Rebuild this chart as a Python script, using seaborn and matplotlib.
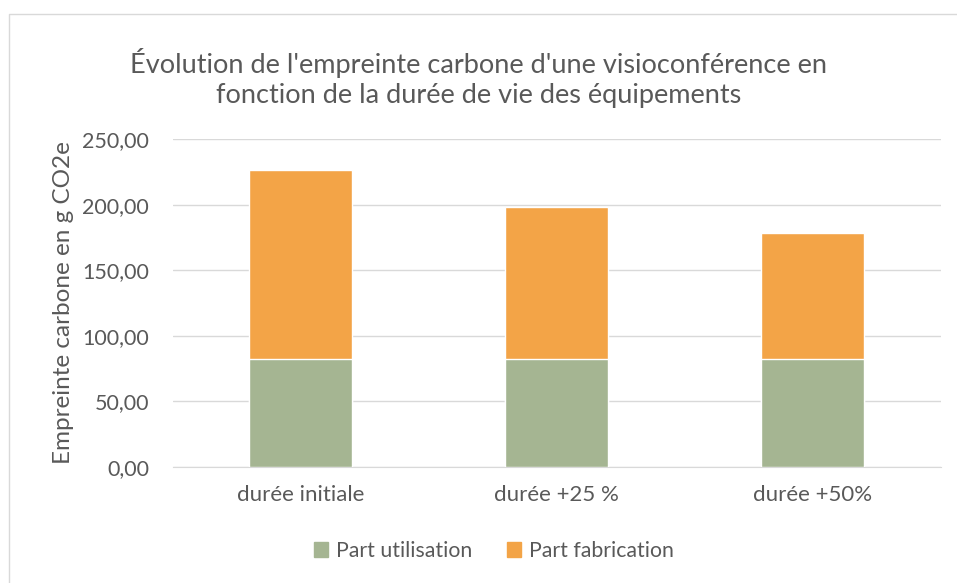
import pandas as pd
import seaborn as sns
import matplotlib.pyplot as plt
from matplotlib.patches import Patch
from matplotlib.lines import Line2D
from matplotlib.ticker import FuncFormatter

categories = ["durée initiale", "durée +25 %", "durée +50%"]
utilisation = [82.6, 82.6, 82.6]
fabrication = [143.8, 115.2, 95.9]

df = pd.DataFrame({"cat": categories, "util": utilisation, "fab": fabrication})
df["total"] = df["util"] + df["fab"]

green = "#a5b592"
orange = "#f3a447"
grey = "#595959"

sns.set_style("white")
plt.rcParams["font.family"] = ["Lato", "DejaVu Sans"]

fig = plt.figure(figsize=(9.57, 5.83), dpi=100)
ax = fig.add_axes([172.5 / 957, 1 - 467 / 583, 768 / 957, 328 / 583])

sns.barplot(data=df, x="cat", y="total", color=orange, width=0.4,
            saturation=1, ax=ax, zorder=2)
sns.barplot(data=df, x="cat", y="util", color=green, width=0.4,
            saturation=1, ax=ax, zorder=3)

ax.set_ylim(0, 250)
ax.set_xlim(-0.5, 2.5)
ax.set_yticks([0, 50, 100, 150, 200, 250])
ax.yaxis.set_major_formatter(FuncFormatter(lambda v, p: f"{v:.2f}".replace(".", ",")))
ax.grid(axis="y", color="#d9d9d9", linewidth=1, zorder=0)
ax.set_axisbelow(True)
for s in ["top", "right", "left"]:
    ax.spines[s].set_visible(False)
ax.spines["bottom"].set_color("#d9d9d9")
ax.tick_params(axis="y", length=0, labelsize=15.5, labelcolor=grey, pad=17)
ax.tick_params(axis="x", length=0, labelsize=16, labelcolor=grey, pad=13)
ax.set_xlabel("")
ax.set_ylabel("Empreinte carbone en g CO2e", fontsize=17.5, color=grey, labelpad=6)

fig.text(0.5, 1 - 78 / 583, "Évolution de l'empreinte carbone d'une visioconférence en\n"
         "fonction de la durée de vie des équipements",
         ha="center", va="center", fontsize=19.5, color=grey, linespacing=1.25)

handles = [Patch(color=green, label="Part utilisation"),
           Patch(color=orange, label="Part fabrication")]
fig.legend(handles=handles, loc="center", bbox_to_anchor=(494 / 957, 1 - 551 / 583),
           ncol=2, frameon=False, fontsize=15.3, labelcolor=grey,
           handlelength=0.65, handleheight=0.65, columnspacing=1.6, handletextpad=0.4)

# chart area border (top and left only visible)
fig.add_artist(Line2D([9 / 957, 9 / 957, 1], [0, 1 - 14 / 583, 1 - 14 / 583],
                      transform=fig.transFigure, color="#d9d9d9", linewidth=1))

fig.savefig("out.png", dpi=100)
